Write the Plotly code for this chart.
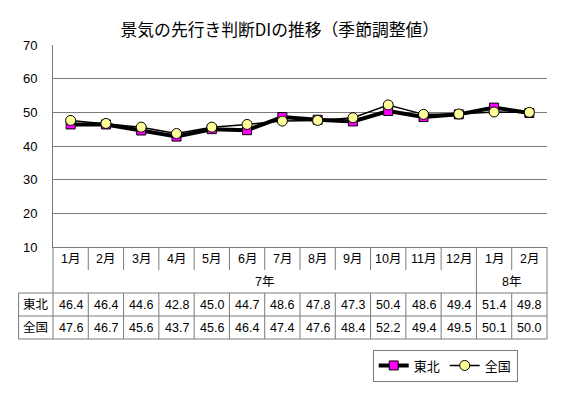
import plotly.graph_objects as go

# ---- data ----
months = ["1月", "2月", "3月", "4月", "5月", "6月", "7月", "8月", "9月", "10月", "11月", "12月", "1月", "2月"]
years = ["7年", "8年"]
year_spans = [(0, 11), (12, 13)]
tohoku = [46.4, 46.4, 44.6, 42.8, 45.0, 44.7, 48.6, 47.8, 47.3, 50.4, 48.6, 49.4, 51.4, 49.8]
zenkoku = [47.6, 46.7, 45.6, 43.7, 45.6, 46.4, 47.4, 47.6, 48.4, 52.2, 49.4, 49.5, 50.1, 50.0]
series_names = ["東北", "全国"]
y_ticks = [10, 20, 30, 40, 50, 60, 70]

W, H = 563, 393
ML, MR, MT, MB = 53, 16, 45, 146
PW = W - ML - MR
PH = H - MT - MB
n = len(months)
xs = list(range(n))

FONT = "Liberation Sans, Arial, Noto Sans CJK JP, sans-serif"
LINE = "#7a7a7a"

fig = go.Figure()
fig.add_trace(go.Scatter(
    x=xs, y=tohoku, name=series_names[0], mode="lines+markers",
    line=dict(color="black", width=4),
    marker=dict(symbol="square", size=9, color="#FF00FF", line=dict(color="black", width=1)),
))
fig.add_trace(go.Scatter(
    x=xs, y=zenkoku, name=series_names[1], mode="lines+markers",
    line=dict(color="black", width=1.5),
    marker=dict(symbol="circle", size=10, color="#FFFF99", line=dict(color="black", width=1)),
))

rh = 23 / PH  # table row height in paper units
xl = -34.4 / PW  # left edge of label column

shapes = []
def hline(y, x0, x1):
    shapes.append(dict(type="line", xref="paper", yref="paper", x0=x0, x1=x1, y0=y, y1=y,
                       line=dict(color=LINE, width=1)))
def vline(x, y0, y1):
    shapes.append(dict(type="line", xref="paper", yref="paper", x0=x, x1=x, y0=y0, y1=y1,
                       line=dict(color=LINE, width=1)))

hline(-2 * rh, xl, 1)
hline(-3 * rh, xl, 1)
hline(-4 * rh, xl, 1)
vline(xl, -2 * rh, -4 * rh)
vline(0, 0, -4 * rh)
vline(1, 0, -4 * rh)
year_bounds = [s for s, e in year_spans[1:]]
for i in range(1, n):
    xp = i / n
    if i in year_bounds:
        vline(xp, 0, -4 * rh)
    else:
        vline(xp, 0, -rh)
        vline(xp, -2 * rh, -4 * rh)

TS = 12.5
ann = []
for i, m in enumerate(months):
    ann.append(dict(x=i, y=-0.5 * rh, xref="x", yref="paper", text=m, showarrow=False,
                    font=dict(size=TS, color="black", family=FONT), xanchor="center", yanchor="middle"))
    ann.append(dict(x=i, y=-2.5 * rh, xref="x", yref="paper", text=f"{tohoku[i]:.1f}", showarrow=False,
                    font=dict(size=TS, color="black", family=FONT), xanchor="center", yanchor="middle"))
    ann.append(dict(x=i, y=-3.5 * rh, xref="x", yref="paper", text=f"{zenkoku[i]:.1f}", showarrow=False,
                    font=dict(size=TS, color="black", family=FONT), xanchor="center", yanchor="middle"))
for yname, (s, e) in zip(years, year_spans):
    ann.append(dict(x=(s + e) / 2, y=-1.5 * rh, xref="x", yref="paper", text=yname, showarrow=False,
                    font=dict(size=TS, color="black", family=FONT), xanchor="center", yanchor="middle"))
for k, nm in enumerate(series_names):
    ann.append(dict(x=xl / 2, y=-(2.5 + k) * rh, xref="paper", yref="paper", text=nm, showarrow=False,
                    font=dict(size=TS, color="black", family=FONT), xanchor="center", yanchor="middle"))

fig.update_layout(
    width=W, height=H,
    margin=dict(l=ML, r=MR, t=MT, b=MB, pad=0, autoexpand=False),
    paper_bgcolor="white", plot_bgcolor="white",
    title=dict(text="景気の先行き判断DIの推移（季節調整値）", x=0.497, xanchor="center",
               y=1 - 30 / H, yanchor="middle", yref="container",
               font=dict(size=16.8, color="black", family="Noto Sans CJK JP, sans-serif")),
    xaxis=dict(range=[-0.5, n - 0.5], showticklabels=False, showgrid=False, zeroline=False,
               showline=True, linecolor=LINE, linewidth=1, ticks=""),
    yaxis=dict(range=[10, 70], tickvals=y_ticks, showgrid=True, gridcolor=LINE, gridwidth=1,
               zeroline=False, showline=True, linecolor=LINE, linewidth=1,
               ticks="inside", ticklen=4, tickcolor=LINE, ticklabelstandoff=12,
               tickfont=dict(size=13, color="black", family=FONT)),
    showlegend=True,
    legend=dict(orientation="h", x=(372.7 - ML) / PW, y=-(349.5 - (MT + PH)) / PH,
                xanchor="left", yanchor="top", bordercolor=LINE, borderwidth=1,
                font=dict(size=13, color="black", family=FONT), itemwidth=30,
                bgcolor="white"),
    shapes=shapes,
    annotations=ann,
)

fig.write_html("out.html", config={"displayModeBar": False},
               post_script="document.body.style.margin='0';document.body.style.overflow='hidden';")
